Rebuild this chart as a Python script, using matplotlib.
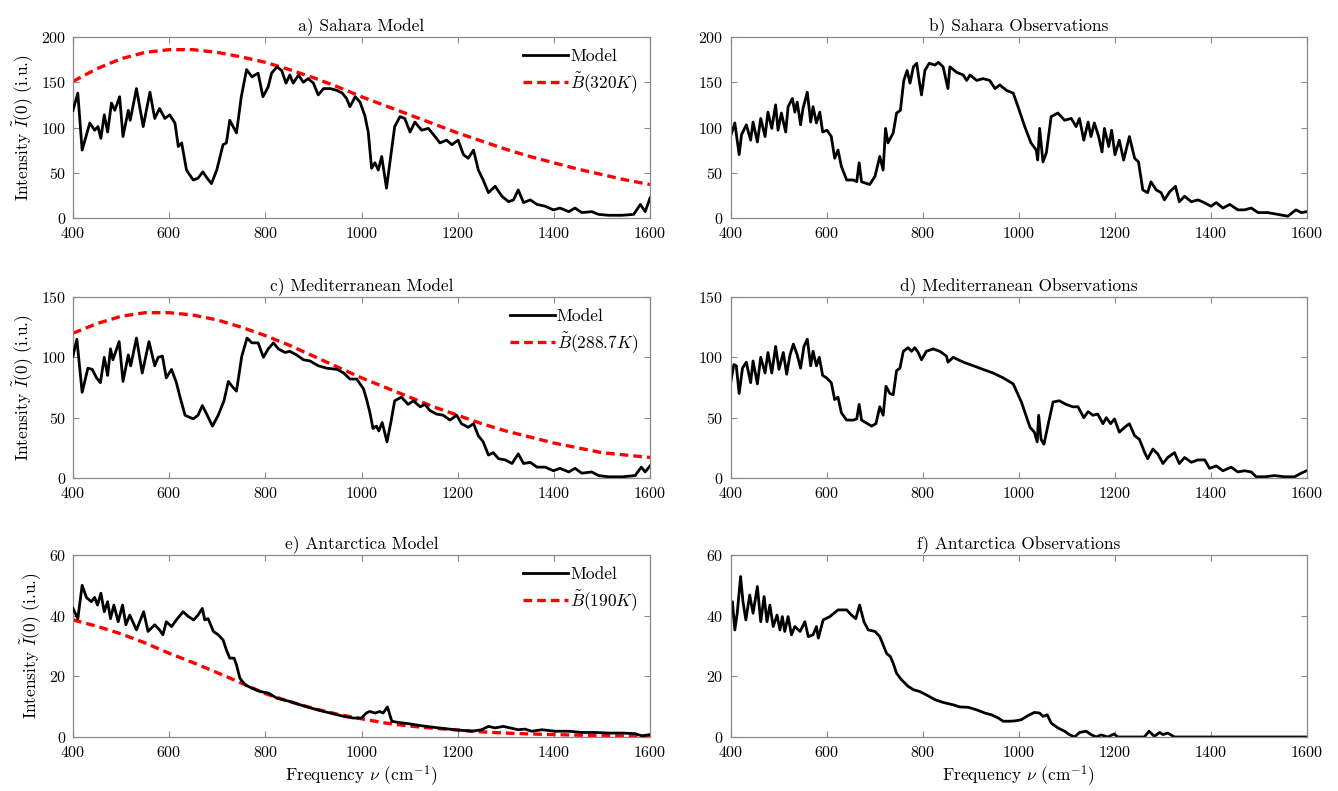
import matplotlib
matplotlib.use("Agg")
import matplotlib.pyplot as plt

plt.rcParams['font.family'] = 'serif'
plt.rcParams['font.serif'] = ['cmr10', 'DejaVu Serif']
plt.rcParams['mathtext.fontset'] = 'cm'
plt.rcParams['axes.formatter.use_mathtext'] = True

# ---------------- data ----------------
# a) Sahara model
sah_mod_x = [400, 410, 419, 435, 445, 452, 458, 465, 472, 480, 487, 497, 504, 515, 519, 532, 546, 560, 570, 580,
             591, 601, 612, 619, 626, 636, 650, 660, 670, 679, 688, 699, 712, 719, 726, 733, 740, 750, 761, 772,
             785, 795, 806, 813, 824, 834, 843, 851, 858, 869, 879, 889, 900, 910, 921, 935, 949, 960, 969, 976,
             987, 997, 1007, 1014, 1021, 1028, 1035, 1042, 1052, 1059, 1069, 1080, 1090, 1101, 1111, 1125, 1139,
             1153, 1163, 1177, 1188, 1201, 1212, 1222, 1233, 1243, 1253, 1264, 1278, 1292, 1306, 1316, 1326, 1337,
             1351, 1365, 1382, 1399, 1413, 1431, 1444, 1458, 1479, 1493, 1514, 1542, 1566, 1580, 1590, 1600]
sah_mod_y = [119, 138, 75, 105, 97, 101, 88, 114, 95, 127, 119, 134, 90, 119, 108, 143, 101, 139, 110, 121,
             110, 114, 105, 79, 83, 53, 42, 44, 51, 44, 38, 53, 81, 83, 108, 101, 94, 134, 164, 156,
             160, 134, 145, 160, 167, 163, 149, 158, 149, 158, 150, 154, 149, 136, 143, 143, 141, 138, 132, 123,
             134, 128, 113, 95, 55, 61, 53, 68, 33, 61, 101, 112, 110, 95, 106, 97, 99,
             90, 83, 86, 81, 86, 70, 66, 75, 53, 42, 28, 35, 24, 18, 20, 31, 17,
             20, 15, 13, 9, 11, 7, 11, 6, 7, 4, 3, 3, 4, 15, 7, 22]

# Planck curves (read every 50 cm^-1)
planck_x = [400, 450, 500, 550, 600, 650, 700, 750, 800, 850, 900, 950, 1000, 1050, 1100, 1150, 1200,
            1250, 1300, 1350, 1400, 1450, 1500, 1550, 1600]
planck_320 = [151, 165, 176, 183, 186, 186, 183, 178, 172, 164, 155, 145, 134, 124, 114, 104, 94,
              85, 76, 68, 61, 54, 48, 42, 37]
planck_2887 = [120, 128, 134, 137, 137, 135, 131, 125, 118, 110, 101, 92, 83, 75, 67, 59, 52,
               45, 39, 34, 29, 25, 21, 19, 17]
planck_190 = [38.6, 36.5, 34.0, 31.0, 27.6, 24.5, 21.2, 17.8, 14.3, 11.7, 9.4, 7.5, 6.0, 4.6, 3.6, 2.9, 2.3,
              1.7, 1.3, 1.0, 0.8, 0.6, 0.45, 0.35, 0.27]

# b) Sahara observations
sah_obs_x = [400, 409, 418, 423, 433, 442, 447, 456, 463, 472, 478, 486, 494, 499, 506, 515, 520, 529, 534, 539,
             546, 551, 560, 567, 572, 579, 586, 592, 601, 610, 617, 624, 631, 642, 656, 663, 668, 673, 690, 701,
             711, 718, 723, 728, 739, 746, 754, 761, 768, 774, 781, 788, 793, 798, 805, 814, 826, 833, 843, 853,
             857, 871, 885, 892, 899, 913, 926, 940, 951, 961, 975, 989, 999, 1013, 1026, 1037, 1040, 1044, 1051,
             1058, 1068, 1082, 1096, 1110, 1120, 1127, 1136, 1145, 1151, 1158, 1167, 1174, 1179, 1188, 1194, 1201,
             1210, 1219, 1231, 1242, 1250, 1259, 1269, 1276, 1287, 1297, 1304, 1315, 1327, 1335, 1346, 1360, 1374,
             1387, 1401, 1412, 1426, 1440, 1457, 1471, 1485, 1499, 1519, 1540, 1561, 1578, 1589, 1600]
sah_obs_y = [90, 105, 70, 92, 103, 86, 106, 84, 110, 90, 117, 99, 125, 97, 116, 95, 123, 132, 117, 128,
             103, 121, 139, 106, 123, 105, 117, 95, 97, 90, 66, 75, 57, 42, 42, 40, 61, 40, 37, 46,
             68, 53, 99, 83, 94, 116, 119, 152, 163, 149, 167, 171, 152, 136, 163, 171, 169, 172, 167, 143,
             167, 161, 158, 152, 158, 152, 154, 152, 143, 147, 141, 138, 123, 101, 83, 75, 64, 99, 62,
             72, 112, 116, 108, 110, 101, 110, 86, 106, 90, 105, 90, 73, 99, 79, 97, 70,
             86, 64, 90, 66, 62, 31, 28, 40, 31, 28, 20, 29, 35, 18, 24, 18, 20,
             17, 13, 17, 11, 15, 9, 9, 11, 6, 6, 4, 2, 9, 6, 7]

# c) Mediterranean model
med_mod_x = [400, 408, 419, 431, 440, 449, 457, 465, 472, 478, 483, 496, 504, 515, 520, 532, 544, 558, 570, 577,
             586, 594, 605, 615, 622, 633, 650, 660, 669, 678, 690, 702, 714, 723, 733, 740, 751, 762, 772, 785,
             796, 806, 817, 827, 841, 851, 865, 879, 893, 910, 928, 949, 963, 976, 990, 1004, 1010, 1017, 1024,
             1031, 1036, 1043, 1053, 1061, 1069, 1083, 1097, 1108, 1122, 1132, 1142, 1156, 1170, 1184, 1198, 1208,
             1222, 1233, 1243, 1253, 1264, 1274, 1285, 1299, 1313, 1326, 1337, 1351, 1365, 1382, 1399, 1413, 1431,
             1444, 1458, 1479, 1493, 1514, 1542, 1569, 1582, 1590, 1600]
med_mod_y = [101, 115, 71, 91, 90, 83, 79, 100, 85, 107, 98, 113, 80, 102, 93, 116, 87, 113, 93, 100,
             101, 83, 90, 79, 68, 52, 49, 52, 60, 53, 43, 52, 64, 80, 75, 72, 101, 116, 112, 112,
             100, 107, 112, 107, 104, 105, 102, 98, 97, 93, 91, 90, 87, 82, 82, 74, 66, 55, 41,
             43, 39, 46, 30, 46, 64, 67, 61, 64, 59, 61, 56, 53, 52, 48, 52, 45,
             42, 45, 35, 30, 19, 21, 16, 15, 12, 20, 12, 13, 9, 9, 6, 8, 5,
             8, 4, 5, 2, 1, 1, 2, 9, 5, 10]

# d) Mediterranean observations
med_obs_x = [400, 407, 412, 418, 425, 433, 442, 447, 456, 463, 472, 478, 486, 494, 501, 510, 517, 524, 531, 539,
             546, 553, 560, 567, 572, 579, 585, 592, 600, 610, 617, 624, 631, 642, 656, 663, 668, 673, 694, 703,
             711, 718, 724, 732, 739, 746, 753, 760, 770, 777, 784, 791, 798, 808, 822, 836, 850, 853, 864, 885,
             906, 926, 947, 968, 989, 1006, 1024, 1033, 1039, 1042, 1047, 1053, 1061, 1072, 1085, 1099, 1113, 1124,
             1136, 1145, 1155, 1165, 1176, 1183, 1192, 1200, 1210, 1221, 1231, 1242, 1252, 1263, 1269, 1280, 1290,
             1301, 1311, 1325, 1335, 1346, 1360, 1374, 1388, 1398, 1412, 1426, 1443, 1457, 1471, 1485, 1495, 1513,
             1533, 1554, 1575, 1589, 1600]
med_obs_y = [78, 94, 93, 70, 91, 96, 79, 97, 78, 100, 87, 104, 87, 109, 90, 104, 86, 102, 111, 102,
             91, 109, 115, 93, 105, 93, 100, 85, 83, 79, 65, 67, 54, 48, 48, 49, 61, 48, 43, 45,
             59, 52, 76, 70, 69, 89, 91, 105, 108, 105, 108, 104, 98, 105, 107, 105, 101, 96, 100, 96,
             93, 90, 87, 83, 78, 63, 42, 38, 30, 52, 32, 28, 43, 63, 64, 61, 59, 59,
             50, 55, 52, 53, 45, 50, 45, 49, 38, 42, 45, 35, 32, 21, 16, 24, 20,
             12, 17, 21, 12, 17, 13, 15, 15, 8, 10, 6, 9, 5, 6, 5, 1, 1,
             2, 1, 1, 4, 6]

# e) Antarctica model
ant_mod_x = [400, 410, 419, 428, 438, 445, 451, 458, 465, 472, 478, 485, 494, 503, 510, 518, 532, 547, 556, 570,
             580, 587, 594, 605, 615, 629, 640, 651, 660, 669, 674, 681, 692, 702, 712, 719, 726, 735, 740, 747,
             758, 772, 789, 806, 824, 851, 879, 907, 935, 963, 983, 1000, 1010, 1017, 1028, 1038, 1045, 1054, 1063,
             1076, 1097, 1125, 1160, 1194, 1229, 1250, 1264, 1278, 1295, 1309, 1326, 1340, 1354, 1375, 1403, 1431,
             1458, 1486, 1514, 1542, 1569, 1583, 1600]
ant_mod_y = [42.4, 39.0, 50.0, 46.0, 44.6, 46.0, 43.5, 47.4, 41.3, 44.6, 39.0, 43.5, 38.0, 43.5, 37.0, 40.2, 35.3,
             41.3, 34.8, 37.0, 35.3, 33.7, 38.0, 36.4, 38.6, 41.3, 39.7, 38.6, 40.2, 42.4, 38.6, 39.0, 34.8, 33.7,
             32.0, 28.7, 26.0, 26.0, 23.8, 19.4, 17.2, 16.1, 15.0, 14.5, 12.8, 11.7, 10.3, 9.0, 7.9, 6.8, 6.25,
             6.25, 7.9, 8.4, 7.9, 8.4, 7.9, 9.9, 5.2, 4.8, 4.4, 3.7, 3.0, 2.4, 1.9, 2.4, 3.5, 3.0, 3.5, 3.0,
             2.4, 2.6, 1.9, 2.4, 1.9, 1.9, 1.5, 1.5, 1.3, 1.3, 1.1, 0.4, 0.8]

# f) Antarctica observations
ant_obs_x = [400, 404, 409, 414, 421, 426, 432, 440, 447, 456, 463, 470, 476, 482, 489, 497, 503, 508, 513, 520,
             527, 534, 545, 555, 562, 572, 579, 583, 593, 607, 624, 642, 652, 661, 669, 678, 687, 701, 711, 718,
             725, 733, 739, 746, 756, 770, 781, 794, 808, 826, 843, 864, 878, 895, 912, 930, 944, 958, 968, 982,
             992, 1006, 1019, 1033, 1044, 1051, 1060, 1068, 1082, 1096, 1106, 1117, 1127, 1141, 1151, 1162, 1172,
             1186, 1199, 1207, 1262, 1272, 1283, 1294, 1301, 1311, 1325, 1600]
ant_obs_y = [43.5, 44.6, 35.3, 40.8, 52.9, 44.6, 38.6, 46.8, 40.8, 49.6, 38.0, 46.3, 38.0, 43.5, 36.4, 40.2, 35.3,
             39.7, 34.8, 39.7, 33.7, 36.4, 34.8, 38.0, 33.1, 33.7, 36.4, 32.6, 38.6, 39.7, 41.9, 41.9, 40.2, 39.0,
             43.5, 38.0, 35.3, 34.8, 33.1, 30.4, 27.6, 26.5, 24.3, 21.0, 18.9, 16.7, 15.6, 15.0, 13.9, 12.3, 11.4,
             10.6, 9.9, 9.8, 9.0, 7.9, 7.3, 6.25, 5.2, 5.2, 5.3, 5.7, 7.0, 8.1, 7.9, 6.8, 7.3, 4.6, 3.0, 1.9,
             0.8, 0.0, 1.5, 1.9, 0.8, 0.0, 0.7, 0.0, 1.0, 0.0, 0.0, 1.9, 0.2, 1.5, 0.8, 1.3, 0.0, 0.0]

titles = ["a) Sahara Model", "b) Sahara Observations",
          "c) Mediterranean Model", "d) Mediterranean Observations",
          "e) Antarctica Model", "f) Antarctica Observations"]
legend_labels = [r"$\tilde{B}(320K)$", r"$\tilde{B}(288.7K)$", r"$\tilde{B}(190K)$"]
x_ticks = [400, 600, 800, 1000, 1200, 1400, 1600]
y_ticks_rows = [[0, 50, 100, 150, 200], [0, 50, 100, 150], [0, 20, 40, 60]]

# ---------------- figure ----------------
W, H = 1338, 791
fig = plt.figure(figsize=(W / 100, H / 100), dpi=100)

col_left = [73, 730.5]
col_w = [577, 576]
row_top = [37, 297, 555]
row_h = [181, 181, 182]

model_data = [(sah_mod_x, sah_mod_y, planck_320), (med_mod_x, med_mod_y, planck_2887),
              (ant_mod_x, ant_mod_y, planck_190)]
obs_data = [(sah_obs_x, sah_obs_y), (med_obs_x, med_obs_y), (ant_obs_x, ant_obs_y)]

spine_col = '#8a8a8a'
for r in range(3):
    for c in range(2):
        l = col_left[c] / W
        b = (H - row_top[r] - row_h[r]) / H
        ax = fig.add_axes([l, b, col_w[c] / W, row_h[r] / H])
        if c == 0:
            mx, my, pl = model_data[r]
            ax.plot(mx, my, color='black', lw=2.0, label='Model', zorder=3)
            ax.plot(planck_x, pl, color='#ff0000', lw=2.4, ls=(0, (2.6, 1.5)),
                    label=legend_labels[r], zorder=2)
            ax.legend(loc='upper right', frameon=False, fontsize=12.5,
                      handlelength=2.6, handletextpad=0.1, labelspacing=0.35,
                      borderaxespad=0.3)
            ax.set_ylabel(r"Intensity $\tilde{I}(0)$ (i.u.)", fontsize=12.5, labelpad=4)
        else:
            ox, oy = obs_data[r]
            ax.plot(ox, oy, color='black', lw=2.0)
        ax.set_xlim(400, 1600)
        yt = y_ticks_rows[r]
        ax.set_ylim(yt[0], yt[-1])
        ax.set_xticks(x_ticks)
        ax.set_yticks(yt)
        ax.set_title(titles[2 * r + c], fontsize=12.5, pad=5)
        ax.tick_params(direction='in', top=True, right=True, length=4, width=0.8,
                       color=spine_col, labelsize=11.5)
        ax.tick_params(axis='x', pad=6)
        ax.tick_params(axis='y', pad=5)
        for s in ax.spines.values():
            s.set_color(spine_col)
            s.set_linewidth(0.9)
        if r == 2:
            ax.set_xlabel(r"Frequency $\nu$ (cm$^{-1}$)", fontsize=12.5, labelpad=2)

fig.savefig("out.png", dpi=100)
